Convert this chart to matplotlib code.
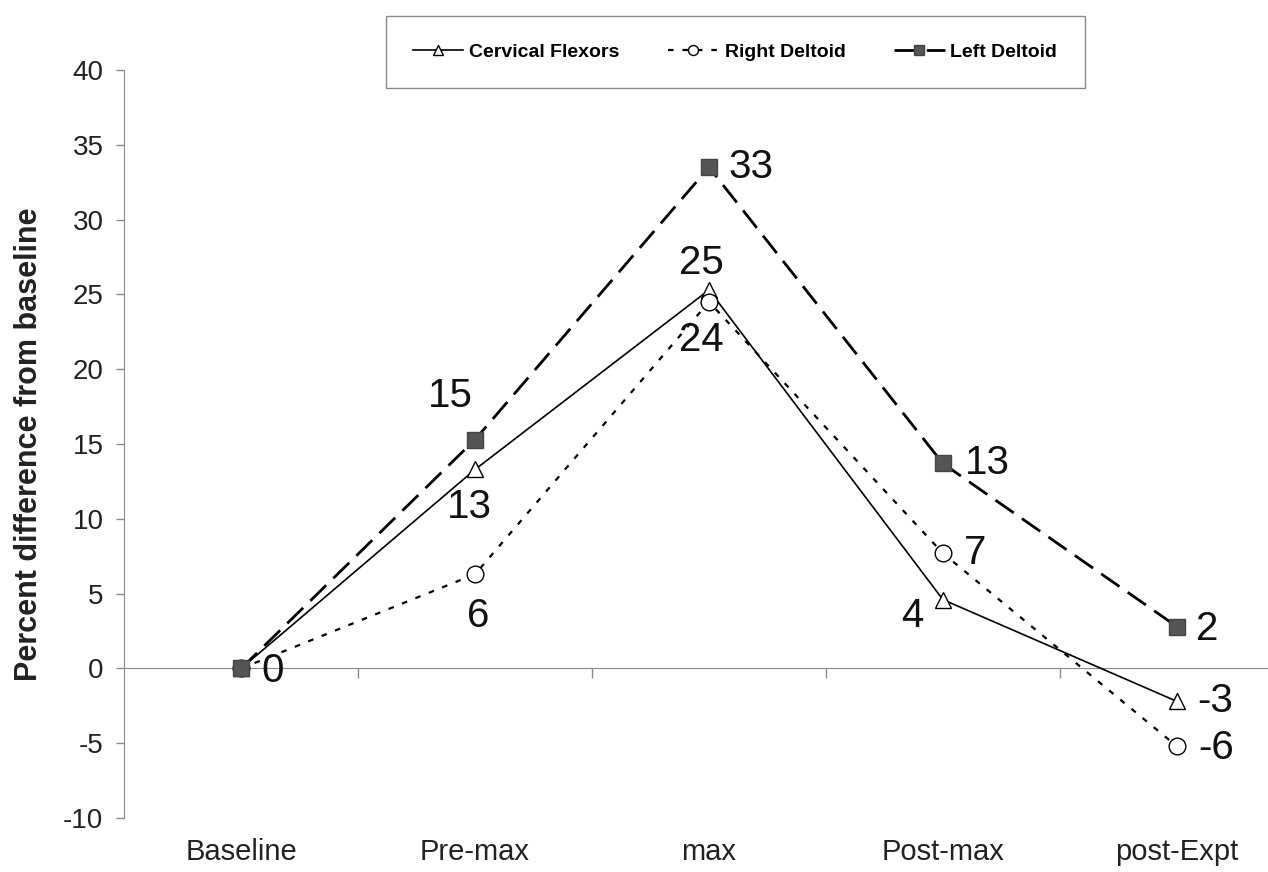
import numpy as np
import matplotlib.pyplot as plt

plt.rcParams['font.family'] = ['Liberation Sans', 'DejaVu Sans']
plt.rcParams['axes.unicode_minus'] = False

categories = ['Baseline', 'Pre-max', 'max', 'Post-max', 'post-Expt']
cervical = [0, 13.3, 25.3, 4.6, -2.2]
right_deltoid = [0, 6.3, 24.5, 7.7, -5.2]
left_deltoid = [0, 15.3, 33.5, 13.7, 2.8]

cervical_labels = ['', '13', '25', '4', '-3']
right_labels = ['', '6', '24', '7', '-6']
left_labels = ['0', '15', '33', '13', '2']

# label offsets in pixels (dx, dy)
cervical_off = [(0, 0), (-6, -38), (-8, 27), (-31, -16), (38, 0)]
right_off = [(0, 0), (3, -42), (-8, -38), (32, 0), (39, -2)]
left_off = [(31, -3), (-25, 44), (42, 0), (44, 0), (30, -2)]

fig = plt.figure(figsize=(12.68, 8.72), dpi=100)
ax = fig.add_axes([0.098, 0.0619, 0.902, 0.8578])

x = np.arange(len(categories))
grey = '#8a8a8a'

ax.plot(x, cervical, color='black', lw=1.2, linestyle='-',
        marker='^', markersize=12, markerfacecolor='white',
        markeredgecolor='black', markeredgewidth=1.0, label='Cervical Flexors', zorder=3)
ax.plot(x, right_deltoid, color='black', lw=1.6, linestyle=(0, (2.5, 4)),
        marker='o', markersize=12, markerfacecolor='white',
        markeredgecolor='black', markeredgewidth=1.0, label='Right Deltoid', zorder=3)
ax.plot(x, left_deltoid, color='black', lw=2.0, linestyle=(0, (8, 3.6)),
        marker='s', markersize=11, markerfacecolor='#555555',
        markeredgecolor='#444444', label='Left Deltoid', zorder=4)

for vals, labs, offs in [(cervical, cervical_labels, cervical_off),
                         (right_deltoid, right_labels, right_off),
                         (left_deltoid, left_labels, left_off)]:
    for i in range(len(vals)):
        if labs[i]:
            ax.annotate(labs[i], (x[i], vals[i]), xytext=offs[i],
                        textcoords='offset pixels', ha='center', va='center',
                        fontsize=29, color='#111111', zorder=5)

ax.set_xlim(-0.5, 4.39)
ax.set_ylim(-10, 40)
ax.set_yticks(np.arange(-10, 41, 5))
ax.tick_params(axis='y', direction='out', length=6, width=1, color=grey,
               labelsize=20, pad=9, labelcolor='#222222')

ax.spines['top'].set_visible(False)
ax.spines['right'].set_visible(False)
ax.spines['left'].set_color(grey)
ax.spines['bottom'].set_position(('data', 0))
ax.spines['bottom'].set_color(grey)

ax.set_xticks(x)
ax.set_xticklabels(categories)
ax.set_xticks(x[:-1] + 0.5, minor=True)
ax.tick_params(axis='x', which='major', length=0, labelsize=21, pad=122,
               labelcolor='#222222')
ax.tick_params(axis='x', which='minor', direction='out', length=7, width=1, color=grey)

ax.set_ylabel('Percent difference from baseline', fontsize=22, fontweight='bold',
              color='#222222', labelpad=14)

h, l = ax.get_legend_handles_labels()
leg = fig.legend(h, l, loc='center',
                 bbox_to_anchor=(0.5797, 0.9400), ncol=3,
                 prop={'weight': 'bold', 'size': 14}, markerscale=0.6,
                 fancybox=False, framealpha=1, edgecolor=grey,
                 borderpad=1.4, columnspacing=2.5, handlelength=2.6,
                 handletextpad=0.3, borderaxespad=0)
leg.get_frame().set_linewidth(1.0)

fig.savefig('out.png', dpi=100)
